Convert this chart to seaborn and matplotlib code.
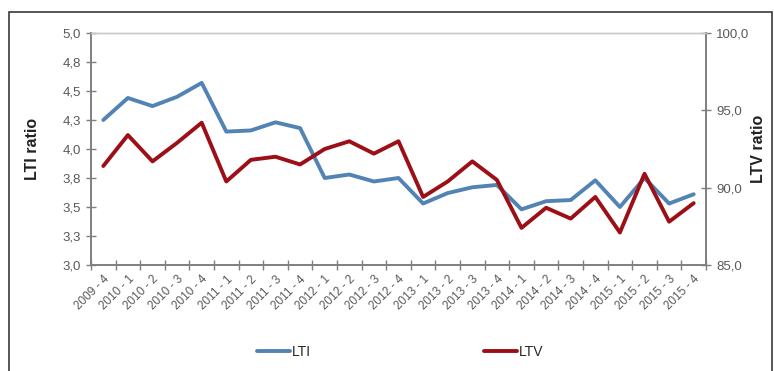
import matplotlib
matplotlib.use('Agg')
import matplotlib.pyplot as plt
from matplotlib.patches import Rectangle
from matplotlib.ticker import FixedLocator, NullFormatter
import seaborn as sns
import numpy as np

# quarters 2009-4 .. 2015-4
quarters = ['2009 - 4',
            '2010 - 1', '2010 - 2', '2010 - 3', '2010 - 4',
            '2011 - 1', '2011 - 2', '2011 - 3', '2011 - 4',
            '2012 - 1', '2012 - 2', '2012 - 3', '2012 - 4',
            '2013 - 1', '2013 - 2', '2013 - 3', '2013 - 4',
            '2014 - 1', '2014 - 2', '2014 - 3', '2014 - 4',
            '2015 - 1', '2015 - 2', '2015 - 3', '2015 - 4']

lti = [4.25, 4.44, 4.37, 4.45, 4.57, 4.15, 4.16, 4.23, 4.18, 3.75, 3.78, 3.72, 3.75,
       3.53, 3.62, 3.67, 3.69, 3.48, 3.55, 3.56, 3.73, 3.50, 3.75, 3.53, 3.61]
ltv = [91.4, 93.4, 91.7, 92.9, 94.2, 90.4, 91.8, 92.0, 91.5, 92.5, 93.0, 92.2, 93.0,
       89.4, 90.4, 91.7, 90.5, 87.4, 88.7, 88.0, 89.4, 87.1, 90.9, 87.8, 89.0]

lti_ticks = [3.0, 3.25, 3.5, 3.75, 4.0, 4.25, 4.5, 4.75, 5.0]
lti_labels = ['3,0', '3,3', '3,5', '3,8', '4,0', '4,3', '4,5', '4,8', '5,0']
ltv_ticks = [85, 90, 95, 100]
ltv_labels = ['85,0', '90,0', '95,0', '100,0']

blue = '#5283b5'
red = '#9c0f16'
grey = '#595959'
axis_col = '#7f7f7f'

sns.set_style('white')
plt.rcParams['font.family'] = ['Liberation Sans', 'DejaVu Sans']

fig = plt.figure(figsize=(7.74, 3.71), dpi=100)
ax = fig.add_axes([91 / 774, 1 - 265 / 371, (706 - 91) / 774, (265 - 33) / 371])
ax2 = ax.twinx()

x = np.arange(len(quarters))
sns.lineplot(x=x, y=lti, ax=ax, color=blue, linewidth=2.8, label='LTI', legend=False)
sns.lineplot(x=x, y=ltv, ax=ax2, color=red, linewidth=2.8, label='LTV', legend=False)
for l in ax.lines + ax2.lines:
    l.set_solid_joinstyle('round')
    l.set_solid_capstyle('round')

ax.set_xlim(-0.5, len(quarters) - 0.5)
ax.set_ylim(3.0, 5.0)
ax2.set_ylim(85, 100)

ax.set_yticks(lti_ticks)
ax.set_yticklabels(lti_labels)
ax2.set_yticks(ltv_ticks)
ax2.set_yticklabels(ltv_labels)

ax.set_xticks(x)
ax.set_xticklabels(quarters, rotation=45, ha='right', rotation_mode='anchor')
ax.xaxis.set_minor_locator(FixedLocator(np.arange(-0.5, len(quarters), 1.0)))
ax.xaxis.set_minor_formatter(NullFormatter())
ax.tick_params(axis='x', which='major', length=0, pad=6, labelsize=8.5, labelcolor=grey)
ax.tick_params(axis='x', which='minor', direction='inout', length=7, width=1, color=axis_col, bottom=True)
ax.tick_params(axis='y', direction='inout', length=7, width=1, color=axis_col, left=True,
               labelsize=9.5, labelcolor=grey, pad=4)
ax2.tick_params(axis='y', direction='inout', length=7, width=1, color=axis_col, right=True,
                labelsize=9.5, labelcolor=grey, pad=4)

for a in (ax, ax2):
    for s in ('left', 'bottom', 'right'):
        a.spines[s].set_color(axis_col)
        a.spines[s].set_linewidth(1.2)
    a.spines['top'].set_color('#c8c8c8')
    a.spines['top'].set_linewidth(1)

ax.set_xlabel('')
ax.set_ylabel('LTI ratio', fontsize=11.5, fontweight='bold', color='#222222', labelpad=16)
ax2.set_ylabel('LTV ratio', fontsize=11.5, fontweight='bold', color='#222222',
               labelpad=1, rotation=90)

h1, l1 = ax.get_legend_handles_labels()
h2, l2 = ax2.get_legend_handles_labels()
fig.legend(h1 + h2, l1 + l2, loc='center', bbox_to_anchor=(400 / 774, 1 - 352 / 371),
           ncol=2, frameon=False, columnspacing=12.5, handlelength=2.4, handletextpad=0.1,
           fontsize=10)

fig.patches.append(Rectangle((9 / 774, -0.05), (772 - 9) / 774, 1.05 - 12 / 371,
                             transform=fig.transFigure, fill=False, edgecolor='#3a3a3a',
                             linewidth=1.2))

fig.savefig('out.png', dpi=100)
